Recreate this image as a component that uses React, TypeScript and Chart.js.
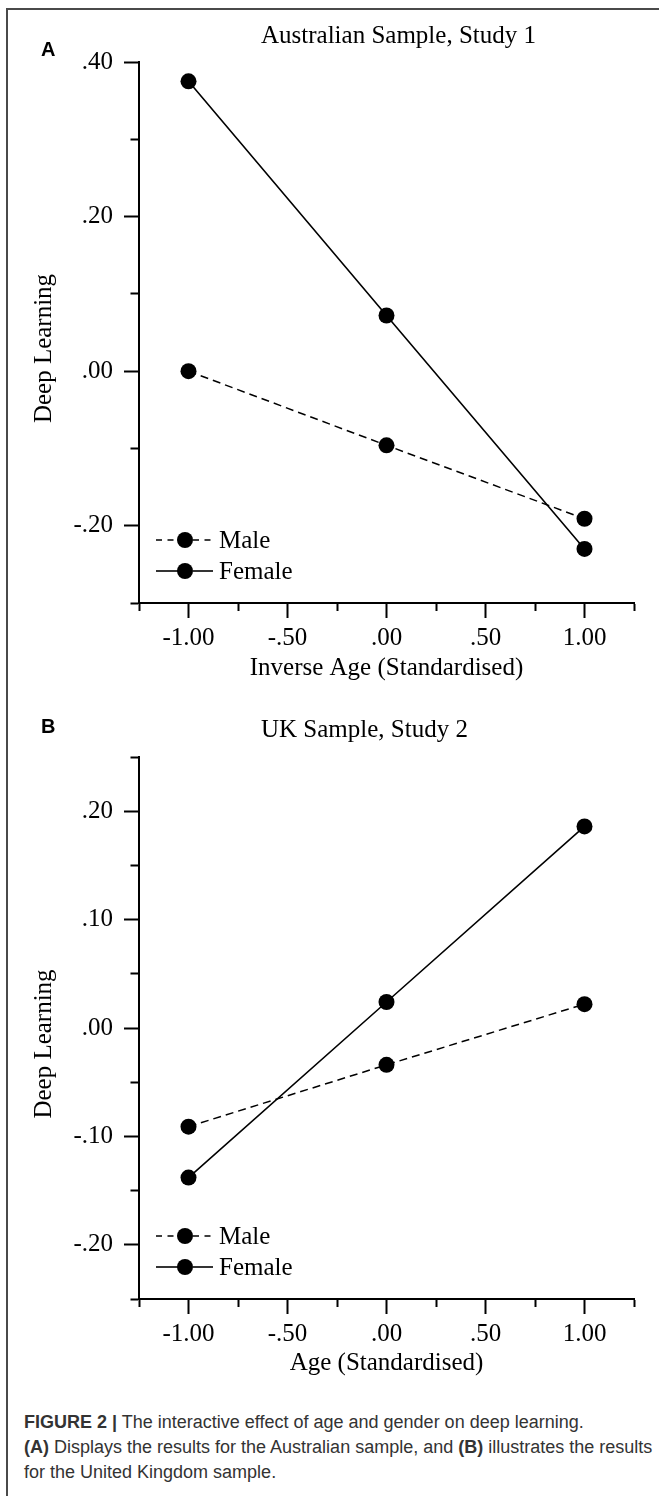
import React, { useEffect, useRef } from 'react';
import { Chart, registerables } from 'chart.js';

Chart.register(...registerables);

// ---------- data ----------
const xValues = [-1, 0, 1];
const seriesNames = ['Male', 'Female'];

const maleA = [0.0, -0.096, -0.191];
const femaleA = [0.375, 0.072, -0.23];

const maleB = [-0.091, -0.034, 0.022];
const femaleB = [-0.138, 0.024, 0.186];

const xTickValues = [-1, -0.5, 0, 0.5, 1];
const xTickLabels = ['-1.00', '-.50', '.00', '.50', '1.00'];

const yTickValuesA = [0.4, 0.2, 0, -0.2];
const yTickLabelsA = ['.40', '.20', '.00', '-.20'];

const yTickValuesB = [0.2, 0.1, 0, -0.1, -0.2];
const yTickLabelsB = ['.20', '.10', '.00', '-.10', '-.20'];

const panelLetters = ['A', 'B'];
const panelTitles = ['Australian Sample, Study 1', 'UK Sample, Study 2'];
const xTitles = ['Inverse Age (Standardised)', 'Age (Standardised)'];
const yTitle = 'Deep Learning';

// ---------- helpers ----------
const SERIF = '"Liberation Serif", "Times New Roman", serif';
const SANS = '"Liberation Sans", Arial, sans-serif';

const findIdx = (v: number, list: number[]) => list.findIndex((t) => Math.abs(t - v) < 1e-6);
const labelFor = (v: number, vals: number[], labels: string[]) => {
  const i = findIdx(v, vals);
  return i >= 0 ? labels[i] : '';
};

const decorPlugin = {
  id: 'panelDecor',
  afterDraw(chart: any, _args: any, opts: any) {
    const { ctx, chartArea } = chart;
    ctx.save();
    ctx.fillStyle = '#000';
    // panel letter
    ctx.font = `bold 20px ${SANS}`;
    ctx.textAlign = 'left';
    ctx.textBaseline = 'middle';
    ctx.fillText(opts.letter, 41, opts.letterY);
    // title
    ctx.font = `25px ${SERIF}`;
    ctx.textBaseline = 'alphabetic';
    ctx.fillText(opts.title, chartArea.left + 122, opts.titleBaseline);
    // y axis title
    ctx.save();
    ctx.translate(44, (chartArea.top + chartArea.bottom) / 2 + 16);
    ctx.rotate(-Math.PI / 2);
    ctx.textAlign = 'center';
    ctx.textBaseline = 'middle';
    ctx.fillText(opts.yTitle, 0, 0);
    ctx.restore();
    // legend
    const rows = [63, 32];
    chart.data.datasets.forEach((ds: any, i: number) => {
      const y = chartArea.bottom - rows[i];
      const x0 = chartArea.left + 17;
      ctx.save();
      ctx.strokeStyle = '#000';
      ctx.lineWidth = 1.6;
      ctx.setLineDash(ds.borderDash && ds.borderDash.length ? [6, 5.5] : []);
      ctx.beginPath();
      ctx.moveTo(x0, y);
      ctx.lineTo(x0 + 22, y);
      ctx.stroke();
      ctx.beginPath();
      ctx.moveTo(x0 + 37, y);
      ctx.lineTo(x0 + 57, y);
      ctx.stroke();
      ctx.setLineDash([]);
      ctx.beginPath();
      ctx.arc(x0 + 29, y, 8, 0, Math.PI * 2);
      ctx.fill();
      ctx.font = `25px ${SERIF}`;
      ctx.textAlign = 'left';
      ctx.textBaseline = 'middle';
      ctx.fillText(ds.label, x0 + 63, y + 1);
      ctx.restore();
    });
    ctx.restore();
  },
};

type PanelProps = {
  idx: number;
  male: number[];
  female: number[];
  yMin: number;
  yMax: number;
  yStep: number;
  yTickValues: number[];
  yTickLabels: string[];
  top: number;
  height: number;
  padTop: number;
  xAxisHeight: number;
  xTitlePadBottom: number;
  titleBaseline: number;
  letterY: number;
};

function Panel(p: PanelProps) {
  const ref = useRef<HTMLCanvasElement | null>(null);
  useEffect(() => {
    if (!ref.current) return;
    const pts = (arr: number[]) => xValues.map((x, i) => ({ x, y: arr[i] }));
    const tickFont = { family: SERIF, size: 25 };
    const chart = new Chart(ref.current, {
      type: 'line',
      data: {
        datasets: [
          {
            label: seriesNames[0],
            data: pts(p.male),
            borderColor: '#000',
            backgroundColor: '#000',
            borderWidth: 1.5,
            borderDash: [8, 5],
            pointRadius: 8,
            pointBorderWidth: 0,
            pointBackgroundColor: '#000',
            tension: 0,
          },
          {
            label: seriesNames[1],
            data: pts(p.female),
            borderColor: '#000',
            backgroundColor: '#000',
            borderWidth: 1.6,
            pointRadius: 8,
            pointBorderWidth: 0,
            pointBackgroundColor: '#000',
            tension: 0,
          },
        ],
      },
      options: {
        responsive: false,
        animation: false,
        devicePixelRatio: 1,
        layout: { padding: { left: 0, right: 25, top: p.padTop, bottom: 0 } },
        plugins: {
          legend: { display: false },
          title: { display: false },
          tooltip: { enabled: false },
          panelDecor: {
            letter: panelLetters[p.idx],
            title: panelTitles[p.idx],
            yTitle,
            titleBaseline: p.titleBaseline,
            letterY: p.letterY,
          },
        } as any,
        scales: {
          x: {
            type: 'linear',
            position: 'bottom',
            min: -1.25,
            max: 1.25,
            afterFit: (s: any) => {
              s.height = p.xAxisHeight;
            },
            ticks: {
              stepSize: 0.25,
              autoSkip: false,
              maxRotation: 0,
              minRotation: 0,
              padding: 5,
              color: '#000',
              font: tickFont,
              callback: (v: any) => labelFor(Number(v), xTickValues, xTickLabels),
            },
            grid: {
              drawOnChartArea: false,
              tickLength: 15,
              tickWidth: 2,
              tickColor: '#000',
              tickBorderDash: (c: any) =>
                c.tick && findIdx(c.tick.value, xTickValues) >= 0 ? [] : [7, 100],
            },
            border: { display: true, color: '#000', width: 2 },
            title: {
              display: true,
              text: xTitles[p.idx],
              color: '#000',
              font: tickFont,
              padding: { top: 0, bottom: p.xTitlePadBottom },
            },
          },
          y: {
            type: 'linear',
            position: 'left',
            min: p.yMin,
            max: p.yMax,
            afterFit: (s: any) => {
              s.width = 139;
            },
            ticks: {
              stepSize: p.yStep,
              autoSkip: false,
              padding: 11,
              color: '#000',
              font: tickFont,
              callback: (v: any) => labelFor(Number(v), p.yTickValues, p.yTickLabels),
            },
            grid: {
              drawOnChartArea: false,
              tickLength: 15,
              tickWidth: 2,
              tickColor: '#000',
              tickBorderDash: (c: any) =>
                c.tick && findIdx(c.tick.value, p.yTickValues) >= 0 ? [] : [0, 6.5, 9, 100],
            },
            border: { display: true, color: '#000', width: 2 },
          },
        },
      } as any,
      plugins: [decorPlugin as any],
    });
    return () => chart.destroy();
  }, []);
  return (
    <canvas
      ref={ref}
      width={659}
      height={p.height}
      style={{ position: 'absolute', left: 0, top: p.top, width: 659, height: p.height }}
    />
  );
}

export default function App() {
  useEffect(() => {
    document.body.style.margin = '0';
  }, []);
  return (
    <div
      style={{
        position: 'absolute',
        left: 0,
        top: 0,
        width: 659,
        height: 1496,
        overflow: 'hidden',
        background: '#fff',
      }}
    >
      <div
        style={{
          position: 'absolute',
          left: 6,
          top: 8,
          width: 700,
          height: 1600,
          borderTop: '2px solid #4a4a4a',
          borderLeft: '2px solid #4a4a4a',
        }}
      />
      <Panel
        idx={0}
        male={maleA}
        female={femaleA}
        yMin={-0.3}
        yMax={0.4}
        yStep={0.1}
        yTickValues={yTickValuesA}
        yTickLabels={yTickLabelsA}
        top={0}
        height={690}
        padTop={62}
        xAxisHeight={87}
        xTitlePadBottom={7}
        titleBaseline={43}
        letterY={50}
      />
      <Panel
        idx={1}
        male={maleB}
        female={femaleB}
        yMin={-0.25}
        yMax={0.25}
        yStep={0.05}
        yTickValues={yTickValuesB}
        yTickLabels={yTickLabelsB}
        top={700}
        height={690}
        padTop={57}
        xAxisHeight={91}
        xTitlePadBottom={12}
        titleBaseline={37}
        letterY={27}
      />
      <div
        style={{
          position: 'absolute',
          left: 24,
          top: 1410,
          font: `18px ${SANS}`,
          lineHeight: '25px',
          color: '#333',
          whiteSpace: 'nowrap',
        }}
      >
        <b>FIGURE 2 |</b> The interactive effect of age and gender on deep learning.
        <br />
        <b>(A)</b> Displays the results for the Australian sample, and <b>(B)</b> illustrates the results
        <br />
        for the United Kingdom sample.
      </div>
    </div>
  );
}
